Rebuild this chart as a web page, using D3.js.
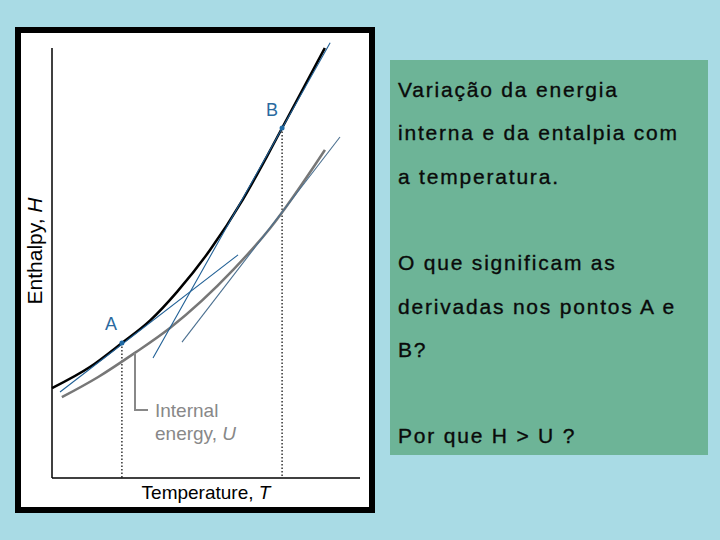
<!DOCTYPE html>
<html><head><meta charset="utf-8">
<script src="https://cdn.jsdelivr.net/npm/d3@7"></script>
<style>body{margin:0;background:#a9dbe5;}svg{display:block}</style>
</head><body><svg id="c" width="720" height="540"></svg>
<script>
const hT = [0, 1.23, 2.27, 3.18, 4.06, 5.13, 6.20, 6.98, 7.47, 8.86];
const hV = [2.09, 2.58, 3.14, 3.66, 4.33, 5.30, 6.48, 7.48, 8.14, 10.0];
const uT = [0.32, 1.5, 2.69, 3.83, 5.88, 7.08, 8.86];
const uV = [1.88, 2.35, 2.91, 3.49, 4.84, 5.81, 7.63];
const tangents = [
  {name:"A", x1:0.26, y1:2.0, x2:6.04, y2:5.19},
  {name:"B", x1:3.28, y1:2.79, x2:9.03, y2:10.12},
  {name:"U", x1:4.22, y1:3.16, x2:9.35, y2:7.93}
];
const pointT = {A:2.27, B:7.47};
const pointV = {A:3.14, B:8.14};
const textLines = ["Variação da energia","interna e da entalpia com","a temperatura.","","O que significam as","derivadas nos pontos A e","B?","","Por que H > U ?"];

const svg = d3.select("#c");
svg.append("rect").attr("width",720).attr("height",540).attr("fill","#a9dbe5");
svg.append("rect").attr("x",18).attr("y",30).attr("width",354).attr("height",480)
  .attr("fill","#fff").attr("stroke","#000").attr("stroke-width",6);
const x = d3.scaleLinear().domain([0,10]).range([52,360]);
const y = d3.scaleLinear().domain([0,10]).range([478,48]);
svg.append("line").attr("x1",52).attr("x2",52).attr("y1",y(10)).attr("y2",y(0)).attr("stroke","#000").attr("stroke-width",1.5);
svg.append("line").attr("x1",52).attr("x2",x(10)).attr("y1",y(0)).attr("y2",y(0)).attr("stroke","#000").attr("stroke-width",1.5);
["A","B"].forEach(k=>{
  svg.append("line").attr("x1",x(pointT[k])).attr("x2",x(pointT[k])).attr("y1",y(pointV[k])).attr("y2",y(0))
    .attr("stroke","#000").attr("stroke-dasharray","1.5,2").attr("stroke-width",1.2);
});
const line = d3.line().curve(d3.curveMonotoneX).x(d=>x(d[0])).y(d=>y(d[1]));
svg.append("path").attr("d",line(uT.map((t,i)=>[t,uV[i]]))).attr("fill","none").attr("stroke","#777").attr("stroke-width",2.5);
svg.append("path").attr("d",line(hT.map((t,i)=>[t,hV[i]]))).attr("fill","none").attr("stroke","#000").attr("stroke-width",2.5);
tangents.forEach(t=>{
  svg.append("line").attr("x1",x(t.x1)).attr("y1",y(t.y1)).attr("x2",x(t.x2)).attr("y2",y(t.y2))
    .attr("stroke", t.name==="U" ? "#4a6f8f" : "#1f5f95").attr("stroke-width",1.1);
});
["A","B"].forEach(k=>{
  svg.append("circle").attr("cx",x(pointT[k])).attr("cy",y(pointV[k])).attr("r",2.5).attr("fill","#1f6aa5");
});
const F = "Liberation Sans, Arial";
svg.append("text").attr("x",x(pointT.A)-11).attr("y",y(pointV.A)-13).attr("text-anchor","middle")
  .attr("font-family",F).attr("font-size",18).attr("fill","#2a6aa0").text("A");
svg.append("text").attr("x",x(pointT.B)-10).attr("y",y(pointV.B)-12).attr("text-anchor","middle")
  .attr("font-family",F).attr("font-size",18).attr("fill","#2a6aa0").text("B");
svg.append("path").attr("d","M135,353 V410 H148").attr("fill","none").attr("stroke","#888").attr("stroke-width",2);
const lab = svg.append("text").attr("font-family",F).attr("font-size",19).attr("fill","#888");
lab.append("tspan").attr("x",155).attr("y",417).text("Internal");
const t2 = lab.append("tspan").attr("x",155).attr("y",440).text("energy, ");
t2.append("tspan").attr("font-style","italic").text("U");
const xl = svg.append("text").attr("x",206).attr("y",499).attr("text-anchor","middle")
  .attr("font-family",F).attr("font-size",19).attr("fill","#000").text("Temperature, ");
xl.append("tspan").attr("font-style","italic").text("T");
const yl = svg.append("text").attr("transform","translate(42,251) rotate(-90)").attr("text-anchor","middle")
  .attr("font-family",F).attr("font-size",21).attr("fill","#000").text("Enthalpy, ");
yl.append("tspan").attr("font-style","italic").text("H");
svg.append("rect").attr("x",390).attr("y",60).attr("width",318).attr("height",395).attr("fill","#6db497");
textLines.forEach((s,i)=>{
  svg.append("text").attr("x",398).attr("y",97+i*43.3).attr("font-family",F)
    .attr("font-size",21).attr("letter-spacing",1.8).attr("stroke","#0a0a0a").attr("stroke-width",0.35)
    .attr("fill","#0a0a0a").text(s);
});
</script></body></html>
